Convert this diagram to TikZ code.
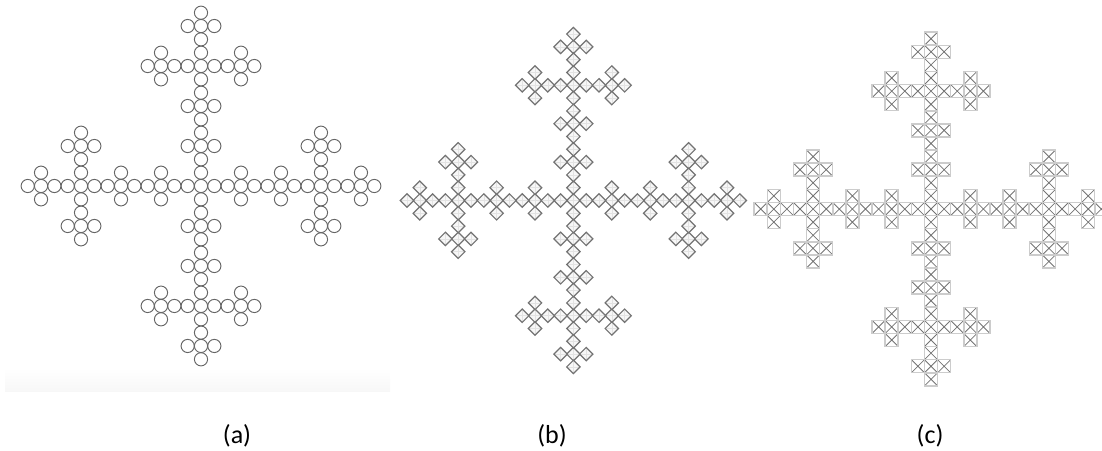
\documentclass[tikz,border=0pt]{standalone}
\usepackage{fontspec}
\setmainfont{Carlito}
\usetikzlibrary{shapes.geometric}
\tikzstyle{ringcell} = [circle, draw=black!60, line width=0.95pt, inner sep=0pt, outer sep=0pt,
minimum size=13.2pt]
\tikzstyle{kitecell} = [diamond, aspect=1, draw=black!55, fill=black!3, line width=1.2pt, inner sep=0pt, outer sep=0pt,
minimum size=13.4pt,
path picture={\draw[black!11, line width=0.6pt] (path picture bounding box.north) -- (path picture bounding box.south)
(path picture bounding box.west) -- (path picture bounding box.east);}]
\tikzstyle{crosscell} = [rectangle, draw=black!20, line width=1.5pt, inner sep=0pt, outer sep=0pt,
minimum size=13pt,
path picture={\draw[black!55, line width=0.8pt] (path picture bounding box.south west) -- (path picture bounding box.north east)
(path picture bounding box.north west) -- (path picture bounding box.south east);}]
\tikzstyle{caption} = [inner sep=0pt, font=\fontsize{26}{30}\selectfont]

% centre x, centre y, pitch, style
\newcommand{\drawfractal}[4]{%
	\foreach \ax/\ay in {0/0,1/0,-1/0,0/1,0/-1}
	\foreach \bx/\by in {0/0,1/0,-1/0,0/1,0/-1}
	\foreach \cx/\cy in {0/0,1/0,-1/0,0/1,0/-1}
	\node [#4] at ({#1+(9*\ax+3*\bx+\cx)*#3},{#2+(9*\ay+3*\by+\cy)*#3}) {};
}

\begin{document}
\begin{tikzpicture}[x=1pt, y=-1pt]
	\useasboundingbox (0,0) rectangle (1102,450);
	\clip (0,0) rectangle (1102,450);
	% Faint band under the first fractal
	\shade [top color=white, bottom color=black!3] (5,368) rectangle (390,391);
	% Place fractals
	\drawfractal{201}{186}{13.33}{ringcell}
	\drawfractal{573.4}{200.5}{12.8}{kitecell}
	\drawfractal{931}{209}{13.1}{crosscell}
	% Captions
	\node [caption] (labelA) at (237,436) {(a)};
	\node [caption] (labelB) at (552,436) {(b)};
	\node [caption] (labelC) at (930,436) {(c)};
\end{tikzpicture}
\end{document}
